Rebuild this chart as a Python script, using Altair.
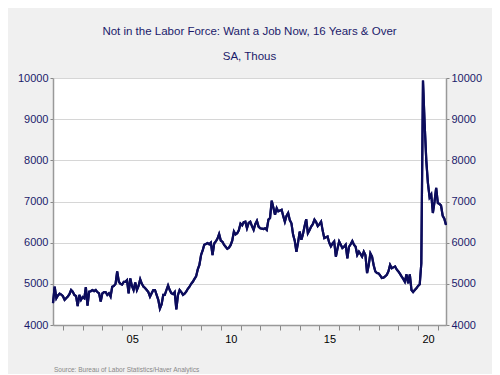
import altair as alt
import pandas as pd

TITLE = "Not in the Labor Force: Want a Job Now, 16 Years & Over"
SUBTITLE = "SA, Thous"
SOURCE = "Source:  Bureau of Labor Statistics/Haver Analytics"

# Monthly values (thousands), first series month is July 2001
v2001 = [4530, 4930, 4650, 4720, 4760, 4740]  # Jul-Dec
v2002 = [4700, 4610, 4650, 4690, 4750, 4850, 4810, 4730, 4700, 4460, 4730, 4610]
v2003 = [4680, 4650, 4920, 4470, 4810, 4820, 4850, 4820, 4850, 4800, 4770, 4570]
v2004 = [4770, 4800, 4800, 4730, 4770, 4690, 4930, 4950, 5000, 5300, 5050, 5000]
v2005 = [4980, 5050, 5050, 5090, 4770, 5130, 4950, 4850, 5030, 4850, 4950, 5110]
v2006 = [5000, 4930, 4900, 4850, 4800, 4690, 4770, 4850, 4850, 4730, 4610, 4400]
v2007 = [4500, 4730, 4730, 4850, 4960, 4850, 4770, 4750, 4800, 4380, 4730, 4850]
v2008 = [4800, 4730, 4760, 4810, 4880, 4930, 5000, 5050, 5120, 5180, 5350, 5460]
v2009 = [5700, 5820, 5950, 5970, 5990, 5960, 6000, 5700, 5980, 6030, 6100, 6210]
v2010 = [6050, 6020, 5950, 5900, 5850, 5880, 5940, 6050, 6270, 6200, 6230, 6300]
v2011 = [6460, 6420, 6500, 6510, 6350, 6480, 6510, 6400, 6310, 6450, 6530, 6390]
v2012 = [6350, 6340, 6330, 6350, 6310, 6560, 6600, 7020, 6850, 6680, 6840, 6760]
v2013 = [6780, 6800, 6650, 6510, 6650, 6720, 6550, 6470, 6190, 6050, 5780, 6000]
v2014 = [6270, 6070, 6200, 6400, 6570, 6230, 6300, 6390, 6450, 6560, 6500, 6400]
v2015 = [6450, 6510, 6300, 6110, 6130, 6150, 6000, 5910, 5980, 6030, 5660, 5850]
v2016 = [6030, 5950, 5870, 5900, 5950, 5620, 5900, 5960, 6040, 5950, 5900, 5700]
v2017 = [5780, 5720, 5660, 5780, 5700, 5260, 5450, 5740, 5660, 5450, 5300, 5260]
v2018 = [5250, 5200, 5140, 5150, 5180, 5220, 5300, 5460, 5380, 5400, 5420, 5350]
v2019 = [5300, 5240, 5180, 5120, 5050, 5230, 5010, 5230, 4850, 4800, 4850, 4890]
v2020 = [4950, 4990, 5500, 9940, 8900, 8000, 7450, 7100, 7170, 6720, 7000, 7330]
v2021 = [6960, 6940, 6900, 6650, 6580, 6430]  # Jan-Jun

years = {
    2001: v2001, 2002: v2002, 2003: v2003, 2004: v2004, 2005: v2005,
    2006: v2006, 2007: v2007, 2008: v2008, 2009: v2009, 2010: v2010,
    2011: v2011, 2012: v2012, 2013: v2013, 2014: v2014, 2015: v2015,
    2016: v2016, 2017: v2017, 2018: v2018, 2019: v2019, 2020: v2020,
    2021: v2021,
}

rows = []
for yr, vals in years.items():
    first_month = 7 if yr == 2001 else 1
    for i, v in enumerate(vals):
        rows.append({"date": f"{yr}-{first_month + i:02d}-01", "value": v})
df = pd.DataFrame(rows)

navy = "#1b1b6b"
line_color = "#0c0c5c"
font = "Liberation Sans"

x_enc = alt.X(
    "date:T",
    scale=alt.Scale(
        type="utc",
        domain=[alt.DateTime(year=2001, month=7, date=1, utc=True),
                alt.DateTime(year=2021, month=6, date=1, utc=True)],
    ),
    axis=alt.Axis(
        title=None,
        values=[alt.DateTime(year=y, month=1, date=1, utc=True) for y in range(2002, 2022)],
        labelExpr="utcyear(datum.value) % 5 == 0 ? utcFormat(datum.value, '%y') : ''",
        labelOffset=10,
        labelOverlap=False,
        labelFlush=False,
        labelColor="black",
        labelFont=font,
        labelFontSize=11,
        labelPadding=3,
        tickSize=5,
        tickColor="#888888",
        domainColor="#999999",
        domainWidth=1.5,
        grid=False,
    ),
)

y_scale = alt.Scale(domain=[4000, 10000], nice=False, zero=False)
y_ticks = [4000, 5000, 6000, 7000, 8000, 9000, 10000]

left = alt.Chart(df).mark_line(color=line_color, strokeWidth=2.2).encode(
    x=x_enc,
    y=alt.Y("value:Q", scale=y_scale, axis=alt.Axis(
        orient="left", title=None, values=y_ticks, format="d",
        labelColor=navy, labelFont=font, labelFontSize=11, labelPadding=2,
        tickSize=3, tickColor="#888888", domainColor="#999999", domainWidth=1.5,
        grid=True, gridColor="#d6d6d6", gridWidth=1,
    )),
)

right = alt.Chart(df).mark_line(color=line_color, strokeWidth=2.2).encode(
    x=x_enc,
    y=alt.Y("value:Q", scale=y_scale, axis=alt.Axis(
        orient="right", title=None, values=y_ticks, format="d",
        labelColor=navy, labelFont=font, labelFontSize=11, labelPadding=2,
        tickSize=3, tickColor="#888888", domainColor="#999999", domainWidth=1.5,
        grid=False,
    )),
)

source = alt.Chart(pd.DataFrame({"t": [SOURCE]})).mark_text(
    align="left", baseline="middle", font=font, fontSize=6.5, color="#888888"
).encode(x=alt.value(1), y=alt.value(292), text="t:N")

chart = alt.layer(left, right, source).resolve_axis(y="independent").properties(
    width=393,
    height=247,
    autosize=alt.AutoSizeParams(type="none"),
    padding={"left": 45, "top": 70, "right": 46, "bottom": 49},
    background="#f0f0f0",
    title=alt.TitleParams(
        text=TITLE, subtitle=SUBTITLE,
        font=font, fontSize=11.5, fontWeight="normal", color=navy,
        subtitleFont=font, subtitleFontSize=11.5, subtitleColor=navy,
        subtitlePadding=13, offset=10, anchor="middle",
    ),
).configure_view(fill="white", stroke=None)

chart.save("out.html", embed_options={"renderer": "svg", "actions": False})
